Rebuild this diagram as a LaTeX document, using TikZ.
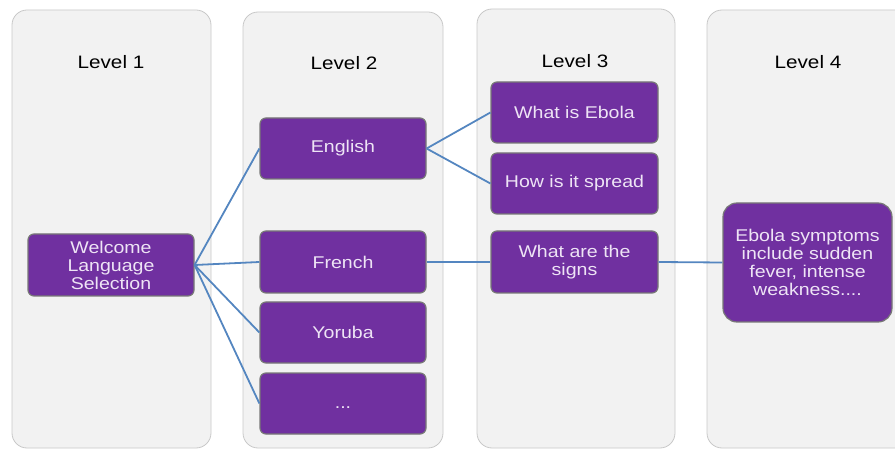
\documentclass[tikz,border=0pt]{standalone}
\usepackage{fontspec}
\setmainfont{Liberation Sans}[FakeStretch=1.15]
\definecolor{panelfill}{RGB}{242,242,242}
\definecolor{paneldraw}{RGB}{200,200,200}
\definecolor{boxpurple}{RGB}{112,48,160}
\definecolor{boxborder}{RGB}{120,120,120}
\definecolor{boxtext}{RGB}{238,228,245}
\definecolor{linkblue}{RGB}{84,134,192}
\begin{document}
\begin{tikzpicture}[x=1pt,y=-1pt,
  panel/.style={draw=paneldraw, fill=panelfill, rounded corners=15pt, line width=0.8pt},
  box/.style={draw=boxborder, fill=boxpurple, rounded corners=6pt, line width=1.2pt,
    text=boxtext, font=\fontsize{17}{18}\selectfont, align=center, inner sep=0pt},
  level/.style={font=\fontsize{18}{20}\selectfont, text=black},
  link/.style={draw=linkblue, line width=1.8pt}]
\useasboundingbox (0,0) rectangle (895,449);
\clip (0,0) rectangle (895,449);
% panels
\draw[panel] (12,10) rectangle (211,448);
\draw[panel] (243,12) rectangle (443,448);
\draw[panel] (477,9) rectangle (675,448);
\draw[panel] (707,10) rectangle (920,448);
% level labels
\node[level] (l1) at (111,62) {Level 1};
\node[level] (l2) at (344,63) {Level 2};
\node[level] (l3) at (575,61) {Level 3};
\node[level] (l4) at (808,62) {Level 4};
% boxes
\node[box, minimum width=166pt, minimum height=62pt] (welcome) at (111,265) {Welcome\\Language\\Selection};
\node[box, minimum width=166pt, minimum height=61pt] (english) at (343,148.5) {English};
\node[box, minimum width=166pt, minimum height=62pt] (french) at (343,262) {French};
\node[box, minimum width=166pt, minimum height=61pt] (yoruba) at (343,332.5) {Yoruba};
\node[box, minimum width=166pt, minimum height=61pt] (dots) at (343,403.5) {\raisebox{-5pt}[0pt][0pt]{...}};
\node[box, minimum width=167pt, minimum height=61pt] (ebola) at (574.5,112.5) {What is Ebola};
\node[box, minimum width=167pt, minimum height=61pt] (spread) at (574.5,183.5) {How is it spread};
\node[box, minimum width=167pt, minimum height=62pt] (signs) at (574.5,262) {What are the\\signs};
\node[box, minimum width=169pt, minimum height=119pt, rounded corners=14pt] (symptoms) at (807.5,262.5) {Ebola symptoms\\include sudden\\fever, intense\\weakness....};
% connectors
\draw[link] (welcome.east) -- (english.west);
\draw[link] (welcome.east) -- (french.west);
\draw[link] (welcome.east) -- (yoruba.west);
\draw[link] (welcome.east) -- (dots.west);
\draw[link] (english.east) -- (ebola.west);
\draw[link] (english.east) -- (spread.west);
\draw[link] (french.east) -- (signs.west);
\draw[link] (signs.east) -- (symptoms.west);
\end{tikzpicture}
\end{document}
